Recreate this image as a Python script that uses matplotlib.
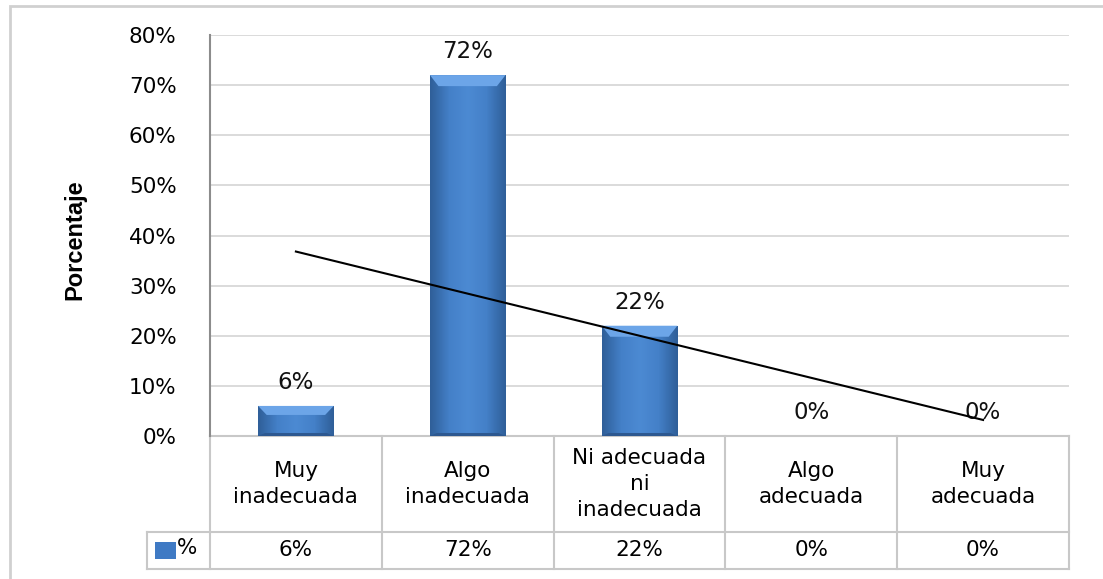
import numpy as np
import matplotlib
matplotlib.use('Agg')
import matplotlib.pyplot as plt
import matplotlib.transforms as mtransforms
from matplotlib.patches import Rectangle, Polygon
from matplotlib.colors import LinearSegmentedColormap

plt.rcParams['font.family'] = ['DejaVu Sans']

# datos
categorias = ['Muy\ninadecuada', 'Algo\ninadecuada', 'Ni adecuada\nni\ninadecuada',
              'Algo\nadecuada', 'Muy\nadecuada']
valores = [6, 72, 22, 0, 0]
etiquetas = ['6%', '72%', '22%', '0%', '0%']
yticks = [0, 10, 20, 30, 40, 50, 60, 70, 80]

W, H = 1103, 579
fs = 15.5
fig = plt.figure(figsize=(W / 100, H / 100), dpi=100)
ax = fig.add_axes([210 / W, 1 - 436 / H, (1069 - 210) / W, (436 - 35) / H])

x = np.arange(len(valores))
ax.set_xlim(-0.5, len(valores) - 0.5)
ax.set_ylim(0, 80)

# barras con degradado
cmap = LinearSegmentedColormap.from_list('azul', ['#2f5f99', '#4480c8', '#4c8ad3', '#4480c8', '#2f5f99'])
grad = np.linspace(0, 1, 64).reshape(1, -1)
bars = ax.bar(x, valores, width=0.44, color='#4a86cf', edgecolor='none', zorder=2)
for b in bars:
    if b.get_height() <= 0:
        continue
    x0, w, h = b.get_x(), b.get_width(), b.get_height()
    im = ax.imshow(grad, cmap=cmap, aspect='auto', extent=[x0, x0 + w, 0, h], zorder=3)
    im.set_clip_path(b)
    # bisel superior
    d = min(2.2, h * 0.3)
    ax.add_patch(Polygon([(x0, h), (x0 + w, h), (x0 + w - 0.05, h - d), (x0 + 0.05, h - d)],
                         closed=True, color='#6ca5e8', zorder=4, lw=0))
    ax.add_patch(Polygon([(x0, 0), (x0 + w, 0), (x0 + w - 0.04, 0.6), (x0 + 0.04, 0.6)],
                         closed=True, color='#2d5890', zorder=4, lw=0))
ax.set_aspect('auto')

for xi, v, t in zip(x, valores, etiquetas):
    ax.text(xi, v + 2.4, t, ha='center', va='bottom', fontsize=fs + 1, color='#111111', zorder=5)

# línea de tendencia lineal
m, c = np.polyfit(x, valores, 1)
ax.plot(x, m * x + c, color='black', lw=1.5, zorder=6)

# ejes
ax.set_yticks(yticks)
ax.set_yticklabels([f'{t}%' for t in yticks], fontsize=fs)
ax.tick_params(axis='y', length=0, pad=24)
ax.set_xticks([])
ax.yaxis.grid(True, color='#d4d4d4', lw=1.2)
ax.set_axisbelow(True)
for s in ['top', 'right', 'bottom']:
    ax.spines[s].set_visible(False)
ax.spines['left'].set_color('#8c8c8c')
ax.spines['left'].set_linewidth(1.5)

fig.text(75 / W, 1 - 240 / H, 'Porcentaje', rotation=90, ha='center', va='center',
         fontsize=17, fontweight='bold', family=['Liberation Sans Narrow', 'Liberation Sans'])

# tabla de datos debajo
tr = mtransforms.blended_transform_factory(ax.transData, ax.transAxes)
ppx = 401.0
y_top = 0
y_mid = -(532 - 436) / ppx
y_bot = -(569 - 436) / ppx
x_left = -0.5 - (210 - 147) / ((1069 - 210) / 5)
gc = '#c8c8c8'
kw = dict(color=gc, lw=1.5, transform=tr, clip_on=False)
for i in range(len(valores) + 1):
    ax.plot([i - 0.5, i - 0.5], [y_top, y_bot], **kw)
ax.plot([-0.5, 4.5], [y_top, y_top], **kw)
ax.plot([x_left, 4.5], [y_mid, y_mid], **kw)
ax.plot([x_left, 4.5], [y_bot, y_bot], **kw)
ax.plot([x_left, x_left], [y_mid, y_bot], **kw)
for xi, cat, t in zip(x, categorias, etiquetas):
    ax.text(xi, (y_top + y_mid) / 2, cat, ha='center', va='center', fontsize=fs,
            transform=tr, linespacing=1.35)
    ax.text(xi, (y_mid + y_bot) / 2, t, ha='center', va='center', fontsize=fs, transform=tr)
ax.add_patch(Rectangle((x_left + 0.045, (y_mid + y_bot) / 2 - 0.022), 0.125, 0.042, transform=tr,
                       color='#3f7ac4', clip_on=False, lw=0))
ax.text(x_left + 0.175, (y_mid + y_bot) / 2 + 0.006, '%', ha='left', va='center', fontsize=fs, transform=tr)

# borde exterior del gráfico
fig.add_artist(Rectangle((10 / W, -0.1), 1.2, 1 - 6 / H + 0.1, transform=fig.transFigure,
                         fill=False, edgecolor='#d0d0d0', lw=2))

fig.savefig('out.png', dpi=100)
